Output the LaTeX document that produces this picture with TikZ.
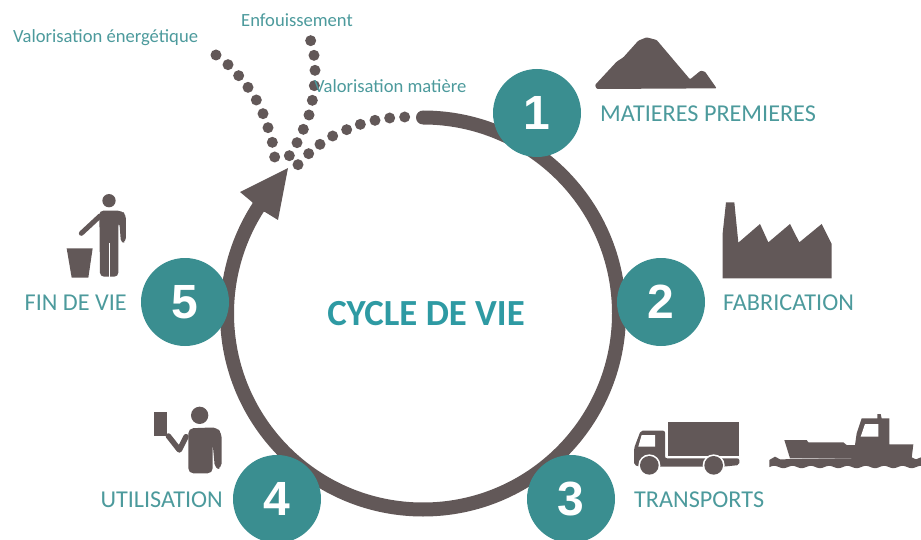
\documentclass[tikz,border=0pt]{standalone}
\usepackage{fontspec}
\setmainfont{Carlito}
\newfontfamily\numfont{Liberation Sans}
\usetikzlibrary{calc}
\definecolor{teal1}{HTML}{3A8E90}
\definecolor{tealtext}{HTML}{4C9A9C}
\definecolor{tealtitle}{HTML}{2E9AA3}
\definecolor{brown1}{HTML}{625858}
\tikzset{
  stepnum/.style={circle,fill=teal1,minimum size=88pt,inner sep=0pt,text=white,font=\numfont\bfseries\fontsize{48}{48}\selectfont},
  steplabel/.style={text=tealtext,inner sep=0pt,font=\fontsize{24.2}{24}\selectfont},
  smalllabel/.style={text=tealtext,inner sep=0pt,font=\fontsize{18.6}{18}\selectfont},
  limb/.style={draw=brown1,line cap=round,line join=round}
}

\begin{document}
\begin{tikzpicture}[x=1pt,y=-1pt]
    \useasboundingbox (0,0) rectangle (921,540);
    % ring and arrow head
    \coordinate (centre) at (423,313.5);
    \draw[brown1,line width=14pt,line cap=round] ($(centre)+(0,-196)$) arc[start angle=-90,end angle=213,radius=196];
    \fill[brown1] (288,168) -- (240,192) -- (252,202) -- (258,210) -- (265,212) -- (278,220) -- cycle;
    % dotted branches
    \foreach \i/\j in {648/165,684/194,716/227,744/262,769/300,789/341,804/383,817/427,824/471,
      932/122,942/166,945/211,943/257,937/301,927/345,910/388,891/428,868/467,
      1214/351,1169/354,1125/361,1081/373,1040/389,998/408,960/433,926/461,894/494}
      \fill[brown1] ({\i/3},{\j/3}) circle (5.5);
    % steps
    \node[stepnum] (matieres) at (537,113) {1};
    \node[stepnum] (fabrication) at (661,302) {2};
    \node[stepnum] (transports) at (571,499) {3};
    \node[stepnum] (utilisation) at (277,499) {4};
    \node[stepnum] (findevie) at (185,302) {5};
    % labels
    \node[steplabel,anchor=west] (lmatieres) at (600,114) {MATIERES PREMIERES};
    \node[steplabel,anchor=west] (lfabrication) at (723,303) {FABRICATION};
    \node[steplabel,anchor=west] (ltransports) at (634,500) {TRANSPORTS};
    \node[steplabel,anchor=east] (lutilisation) at (223,500) {UTILISATION};
    \node[steplabel,anchor=east] (lfindevie) at (127,303) {FIN DE VIE};
    \node[smalllabel,anchor=west] (lenfouis) at (241,20) {Enfouissement};
    \node[smalllabel,anchor=west] (lenergie) at (13,38) {Valorisation énergétique};
    \node[smalllabel,anchor=west] (lmatiere) at (314,86.5) {Valorisation matière};
    \node[text=tealtitle,inner sep=0pt,font=\bfseries\fontsize{36.8}{36}\selectfont] (titre) at (426,314) {CYCLE DE VIE};
    % mountain and factory
    \begin{scope}[shift={(580,20)},scale=1/3]
      \fill[brown1,rounded corners=1pt] (45,195) -- (110,125) -- (130,112) -- (175,62) -- (200,52) -- (230,60) -- (330,178) -- (362,152) -- (375,155) -- (410,205) -- (50,207) -- cycle;
      \fill[brown1] (428,775) -- (428,640) -- (438,547) -- (463,547) -- (475,668) -- (540,612) -- (565,667) -- (630,612) -- (658,667) -- (725,612) -- (755,672) -- (755,775) -- cycle;
    \end{scope}
    % truck and ship
    \begin{scope}[shift={(620,400)},scale=1/3]
      \fill[brown1] (143,65) rectangle (358,168);
      \fill[brown1,rounded corners=2pt] (42,195) -- (42,145) -- (62,92) -- (135,92) -- (135,175) -- (358,175) -- (358,195) -- (310,200) -- (60,200) -- cycle;
      \fill[white] (65,105) -- (105,105) -- (105,140) -- (55,140) -- cycle;
      \fill[white] (88,196) circle (33) (281,196) circle (33);
      \fill[brown1] (88,196) circle (28) (281,196) circle (28);
      \fill[brown1] (493,120) -- (560,120) -- (565,127) -- (670,127) -- (680,135) -- (705,135) -- (710,100) -- (725,55) -- (772,55) -- (772,42) -- (782,42) -- (785,55) -- (808,55) -- (808,133) -- (880,133) -- (875,175) -- (510,175) -- cycle;
      \fill[white] (735,72) -- (775,72) -- (775,110) -- (722,110) -- cycle;
      \fill[brown1] (448,180) -- (465,170) -- (480,178) -- (875,172) -- (888,178) -- (903,172) -- plot[domain=903:448,samples=90] (\x,{201+3.5*cos(6.545*(\x-490))}) -- cycle;
    \end{scope}
    % people
    \begin{scope}[shift={(20,180)},scale=1/3]
      \fill[brown1] (267,62) circle (20);
      \fill[brown1,rounded corners=4pt] (238,92) -- (305,92) -- (318,105) -- (318,185) -- (303,190) -- (298,125) -- (295,125) -- (295,290) -- (240,290) -- cycle;
      \draw[white,line width=1pt] (268,190) -- (268,295);
      \draw[limb,line width=5pt] (240,108) -- (184,160);
      \fill[brown1] (140,205) -- (218,205) -- (205,293) -- (155,293) -- cycle;
      \fill[brown1] (539,706) circle (26);
      \fill[brown1,rounded corners=5pt] (505,745) -- (590,742) -- (605,760) -- (605,865) -- (585,868) -- (578,790) -- (578,880) -- (505,880) -- cycle;
      \draw[limb,line width=5.5pt] (498,770) -- (478,810) -- (445,768);
      \fill[brown1] (402,695) rectangle (440,767);
    \end{scope}
\end{tikzpicture}
\end{document}
